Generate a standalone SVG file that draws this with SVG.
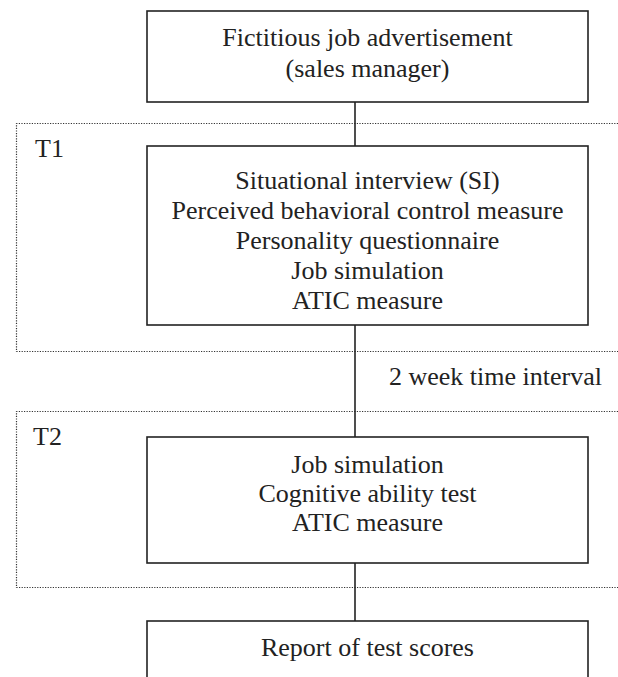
<svg xmlns="http://www.w3.org/2000/svg" width="618" height="677" viewBox="0 0 618 677">
<style>
.box{fill:#fff;stroke:#222;stroke-width:1.6}
.dot{fill:none;stroke:#333;stroke-width:1.2;stroke-dasharray:1.2 1.4}
.t{font-family:"Liberation Serif","Times New Roman",serif;font-size:26px;fill:#222}
.c{text-anchor:middle}
.conn{stroke:#222;stroke-width:1.6;fill:none}
</style>
<rect width="618" height="677" fill="#fff"/>
<g id="phase-T1">
<path class="dot" d="M618,123.5 H16.5 V351.5 H618"/>
<text class="t" x="35" y="157">T1</text>
</g>
<g id="phase-T2">
<path class="dot" d="M618,411.5 H16.5 V587.5 H618"/>
<text class="t" x="33" y="445">T2</text>
</g>
<g id="connectors">
<line class="conn" x1="355" y1="102" x2="355" y2="146"/>
<line class="conn" x1="355" y1="325" x2="355" y2="437"/>
<line class="conn" x1="355" y1="563" x2="355" y2="621"/>
<text class="t" x="389" y="385">2 week time interval</text>
</g>
<g id="node-ad">
<rect class="box" x="147" y="11" width="441" height="91"/>
<text class="t c" x="367.5" y="46">Fictitious job advertisement</text>
<text class="t c" x="367.5" y="77">(sales manager)</text>
</g>
<g id="node-t1">
<rect class="box" x="147" y="146" width="441" height="179"/>
<text class="t c" x="367.5" y="189">Situational interview (SI)</text>
<text class="t c" x="367.5" y="219">Perceived behavioral control measure</text>
<text class="t c" x="367.5" y="249">Personality questionnaire</text>
<text class="t c" x="367.5" y="279">Job simulation</text>
<text class="t c" x="367.5" y="309">ATIC measure</text>
</g>
<g id="node-t2">
<rect class="box" x="147" y="437" width="441" height="126"/>
<text class="t c" x="367.5" y="473">Job simulation</text>
<text class="t c" x="367.5" y="502">Cognitive ability test</text>
<text class="t c" x="367.5" y="531">ATIC measure</text>
</g>
<g id="node-report">
<rect class="box" x="147" y="621" width="441" height="80"/>
<text class="t c" x="367.5" y="656">Report of test scores</text>
</g>
</svg>
